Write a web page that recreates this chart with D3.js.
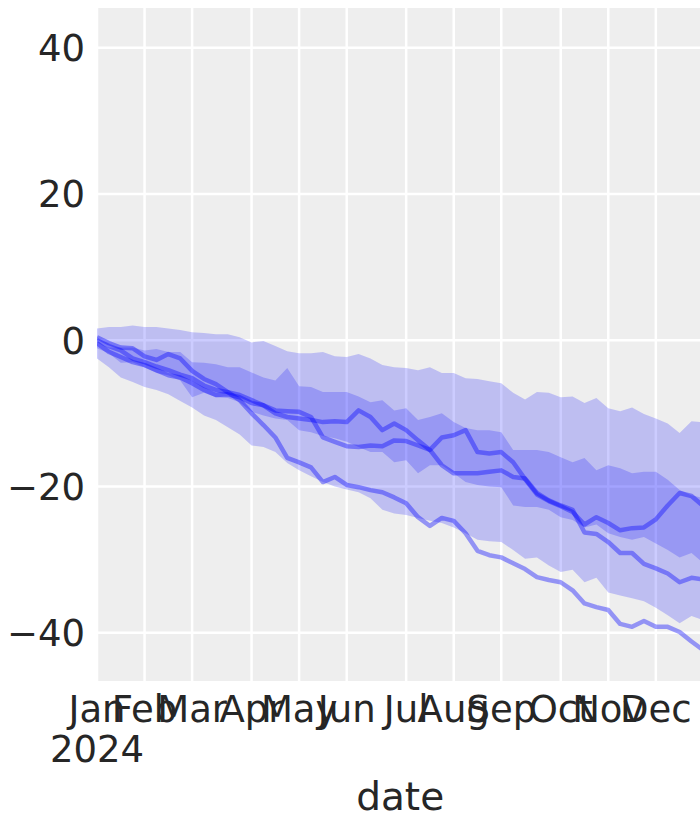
<!DOCTYPE html>
<html>
<head>
<meta charset="utf-8">
<script src="https://cdn.jsdelivr.net/npm/d3@7"></script>
<style>
  body { margin: 0; background: #fff; }
  text { font-family: "DejaVu Sans", sans-serif; fill: #262626; }
</style>
</head>
<body>
<script>
// weekly index, 2024 (week 0 = first week of Jan)
var weeks = d3.range(0, 52);

var monthLabels = ["Jan", "Feb", "Mar", "Apr", "May", "Jun", "Jul", "Aug", "Sep", "Oct", "Nov", "Dec"];
var monthWeeks = [0, 4, 8, 13, 17, 21, 26, 30, 34, 39, 43, 47];
var yTicks = [-40, -20, 0, 20, 40];

// wide band
var outerHigh = [1.6, 1.8, 1.8, 2.0, 1.8, 1.8, 1.6, 1.4, 1.1, 1.0, 0.8, 0.8, 0.4, -0.3, -0.1, -0.8,
  -1.5, -1.8, -1.8, -1.6, -2.2, -2.3, -1.9, -2.5, -3.4, -3.7, -3.8, -4.1, -3.7, -4.5, -4.5, -5.2,
  -5.3, -5.6, -5.9, -7.2, -8.1, -7.1, -7.2, -7.8, -7.7, -8.6, -7.9, -9.3, -9.7, -9.2, -10.1, -10.7,
  -11.4, -12.7, -11.1, -11.2];
var outerLow = [-2.5, -3.7, -5.1, -5.7, -6.4, -6.8, -7.4, -8.3, -9.2, -10.3, -10.9, -11.9, -12.9, -14.4, -14.6, -15.3,
  -16.8, -17.8, -18.6, -19.4, -20.0, -20.4, -20.8, -21.6, -23.2, -23.7, -23.9, -24.3, -24.7, -25.0, -25.6, -26.4,
  -27.3, -27.5, -27.6, -28.7, -29.9, -29.7, -30.8, -31.7, -31.4, -33.1, -32.5, -34.5, -34.9, -35.3, -35.7, -36.6,
  -37.6, -38.7, -37.7, -38.3];

// narrow band
var innerHigh = [-0.4, -1.0, -1.0, -1.0, -1.4, -1.2, -1.6, -1.6, -3.0, -3.1, -3.3, -3.7, -3.7, -4.4, -5.1, -5.5,
  -3.8, -6.3, -6.4, -7.1, -7.1, -7.1, -7.7, -8.5, -8.2, -9.6, -9.3, -10.9, -10.5, -10.0, -11.2, -12.0,
  -12.3, -12.3, -12.6, -15.0, -15.0, -15.0, -15.3, -16.0, -16.7, -16.1, -17.8, -17.1, -17.5, -18.2, -18.0, -18.0,
  -19.1, -20.5, -21.2, -21.6];
var innerLow = [-1.1, -1.8, -3.1, -3.0, -3.7, -4.5, -4.8, -5.5, -7.8, -7.2, -7.8, -7.9, -8.5, -9.8, -10.3, -10.7,
  -10.9, -12.3, -12.6, -13.1, -13.4, -13.9, -14.6, -15.3, -15.3, -16.7, -16.4, -18.2, -17.1, -17.1, -18.2, -19.4,
  -19.8, -20.0, -20.1, -22.6, -22.8, -22.8, -23.2, -24.2, -24.6, -25.6, -25.2, -26.4, -26.9, -27.3, -26.9, -27.8,
  -28.7, -29.7, -29.1, -30.5];

var lineA = [0.0, -0.8, -1.4, -2.5, -3.0, -3.6, -4.1, -4.7, -5.2, -6.2, -6.8, -7.1, -7.5, -8.2, -8.9, -10.0,
  -10.5, -10.7, -10.9, -11.2, -11.1, -11.2, -9.6, -10.5, -12.3, -11.4, -12.3, -13.7, -15.0, -13.3, -13.0, -12.3,
  -15.3, -15.5, -15.3, -16.7, -19.0, -21.1, -22.0, -22.7, -23.5, -25.2, -24.2, -25.0, -26.0, -25.7, -25.6, -24.5,
  -22.6, -20.9, -21.3, -22.7];
var lineB = [-0.4, -1.6, -2.3, -3.0, -3.4, -4.1, -4.8, -5.1, -5.9, -6.8, -7.5, -7.4, -7.8, -8.6, -8.9, -9.6,
  -9.7, -9.8, -10.5, -13.3, -13.9, -14.5, -14.6, -14.4, -14.5, -13.7, -13.8, -14.4, -15.0, -17.1, -18.2, -18.2,
  -18.2, -18.0, -17.8, -18.7, -18.9, -20.9, -21.9, -22.6, -23.2, -26.3, -26.5, -27.6, -29.1, -29.1, -30.6, -31.2,
  -31.9, -33.1, -32.5, -32.7];
var lineC = [0.4, -0.4, -1.0, -1.1, -2.2, -2.7, -1.9, -2.5, -4.2, -5.3, -6.0, -7.1, -8.2, -10.0, -11.6, -13.3,
  -16.1, -16.7, -17.4, -19.4, -18.7, -19.8, -20.1, -20.5, -20.8, -21.5, -22.3, -24.2, -25.4, -24.3, -24.7, -26.4,
  -28.8, -29.4, -29.7, -30.5, -31.3, -32.4, -32.8, -33.1, -34.2, -36.0, -36.5, -36.9, -38.8, -39.2, -38.4, -39.2,
  -39.2, -39.9, -41.2, -42.4];

var W = 700, H = 815;
var pLeft = 97, pRight = 703.4, pTop = 8, pBottom = 681;

var svg = d3.select("body").append("svg")
  .attr("width", W)
  .attr("height", H);

var x = d3.scaleLinear().domain([0, 51]).range([pLeft, pRight]);
var y = d3.scaleLinear().domain([-40, 40]).range([632.7, 47.7]);

svg.append("defs").append("clipPath").attr("id", "plotclip")
  .append("rect")
  .attr("x", pLeft).attr("y", pTop)
  .attr("width", pRight - pLeft).attr("height", pBottom - pTop);

svg.append("rect")
  .attr("x", pLeft).attr("y", pTop)
  .attr("width", pRight - pLeft).attr("height", pBottom - pTop)
  .attr("fill", "#eeeeee");

// grid
var grid = svg.append("g").attr("clip-path", "url(#plotclip)");
grid.selectAll(".vgrid")
  .data(monthWeeks)
  .enter()
  .append("line")
  .attr("class", "vgrid")
  .attr("x1", function(d) { return x(d); })
  .attr("x2", function(d) { return x(d); })
  .attr("y1", pTop).attr("y2", pBottom)
  .attr("stroke", "#fff").attr("stroke-width", 2.5);
grid.selectAll(".hgrid")
  .data(yTicks)
  .enter()
  .append("line")
  .attr("class", "hgrid")
  .attr("x1", pLeft).attr("x2", pRight)
  .attr("y1", function(d) { return y(d); })
  .attr("y2", function(d) { return y(d); })
  .attr("stroke", "#fff").attr("stroke-width", 2.5);

var plot = svg.append("g").attr("clip-path", "url(#plotclip)");

function band(hi, lo) {
  return d3.area()
    .x(function(d) { return x(d); })
    .y0(function(d) { return y(lo[d]); })
    .y1(function(d) { return y(hi[d]); })(weeks);
}

plot.append("path").attr("d", band(outerHigh, outerLow))
  .attr("fill", "blue").attr("fill-opacity", 0.2);
plot.append("path").attr("d", band(innerHigh, innerLow))
  .attr("fill", "blue").attr("fill-opacity", 0.2);

var line = d3.line()
  .x(function(d, i) { return x(weeks[i]); })
  .y(function(d) { return y(d); });

[lineA, lineB, lineC].forEach(function(s) {
  plot.append("path")
    .attr("d", line(s))
    .attr("fill", "none")
    .attr("stroke", "blue")
    .attr("stroke-opacity", 0.38)
    .attr("stroke-width", 4.5)
    .attr("stroke-linejoin", "round");
});

// y tick labels
svg.selectAll(".ytick")
  .data(yTicks)
  .enter()
  .append("text")
  .attr("class", "ytick")
  .attr("x", 85)
  .attr("y", function(d) { return y(d); })
  .attr("dy", "0.36em")
  .attr("text-anchor", "end")
  .attr("font-size", 37)
  .text(function(d) { return d < 0 ? "\u2212" + Math.abs(d) : d; });

// x tick labels
svg.selectAll(".xtick")
  .data(monthLabels)
  .enter()
  .append("text")
  .attr("class", "xtick")
  .attr("x", function(d, i) { return x(monthWeeks[i]); })
  .attr("y", 722)
  .attr("text-anchor", "middle")
  .attr("font-size", 37)
  .text(function(d) { return d; });

svg.append("text")
  .attr("x", x(0)).attr("y", 762)
  .attr("text-anchor", "middle")
  .attr("font-size", 37)
  .text("2024");

svg.append("text")
  .attr("x", (pLeft + pRight) / 2).attr("y", 810)
  .attr("text-anchor", "middle")
  .attr("font-size", 39)
  .text("date");
</script>
</body>
</html>
